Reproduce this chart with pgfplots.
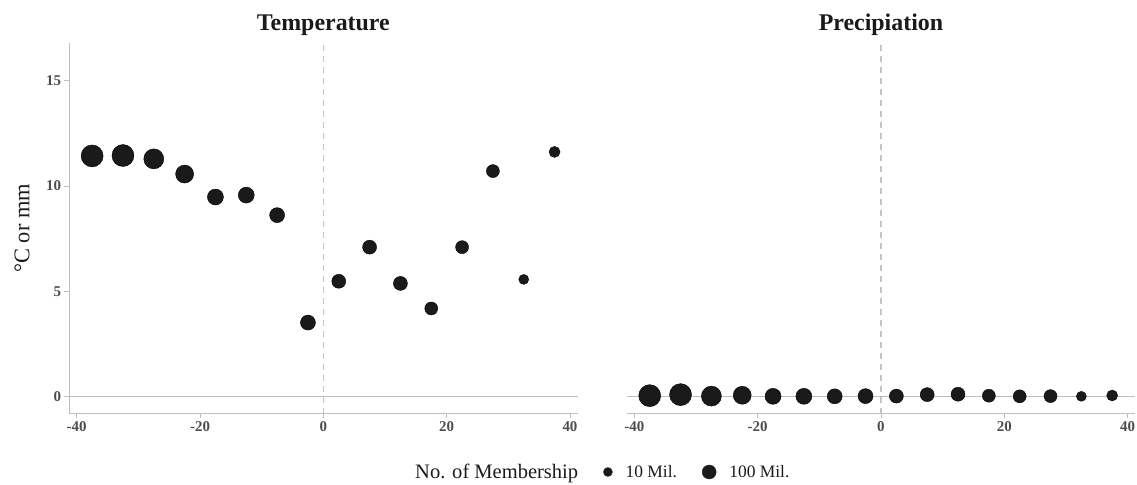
\documentclass[border=0pt]{standalone}
\usepackage{fontspec}
\setmainfont{Liberation Serif}
\usepackage{pgfplots}
\pgfplotsset{compat=1.18}
\usepackage{pgfplotstable}

\definecolor{dotc}{HTML}{1A1A1A}
\definecolor{tickc}{HTML}{4D4D4D}
\definecolor{axisc}{HTML}{BEBEBE}
\definecolor{refc}{HTML}{C4C4C4}

% x: latitude band centre, t: temperature, p: precipitation, d: dot diameter (membership)
\pgfplotstableread{
x      t      p     d
-37.5  11.43  0.05  22
-32.5  11.45  0.10  22
-27.5  11.29  0.03  20
-22.5  10.57  0.07  18
-17.5   9.48  0.02  16
-12.5   9.57  0.02  16
-7.5    8.62  0.02  15
-2.5    3.52  0.03  15
2.5     5.48  0.03  14
7.5     7.10  0.10  14
12.5    5.38  0.12  14
17.5    4.19  0.05  13
22.5    7.10  0.02  13
27.5   10.71  0.03  13
32.5    5.57  0.02  10
37.5   11.62  0.06  11
}\climate

\pgfplotsset{
  panel/.style={
    scale only axis, width=508.7bp, height=370.8bp,
    xmin=-41.25, xmax=41.25, ymin=-0.8, ymax=16.8,
    xtick={-40,-20,0,20,40}, ytick={0,5,10,15},
    tick align=outside, major tick length=4.5bp,
    every tick/.style={axisc, line width=0.8bp},
    axis line style={axisc, line width=1bp},
    /pgf/number format/assume math mode=true,
    ticklabel style={font=\fontsize{15}{15}\selectfont\bfseries, text=tickc},
    title style={font=\fontsize{24}{24}\selectfont\bfseries, text=dotc,
                 at={(0.5,1)}, anchor=base, yshift=6bp},
    clip=false,
  },
  dots/.style={only marks, mark=*, scatter, point meta=\thisrow{d},
    visualization depends on={\thisrow{d}/2 \as \rad},
    scatter/use mapped color={draw=none, fill=dotc},
    scatter/@pre marker code/.append style={/tikz/mark size=\rad bp},
    forget plot},
  zeroline/.style={axisc, line width=1.5bp, forget plot},
  refline/.style={refc, line width=1.3bp, dash pattern=on 6bp off 5bp, forget plot},
}

\begin{document}
\begin{tikzpicture}
\useasboundingbox (0,0) rectangle (1137bp,485bp);

\begin{axis}[panel,
  at={(69bp,71.4bp)}, anchor=south west,
  axis lines*=left,
  title={Temperature},
  ylabel={°C or mm},
  ylabel style={font=\fontsize{22.5}{22.5}\selectfont, text=dotc,
                at={(axis description cs:-0.0925,0.5)}, anchor=center},
  legend style={at={(0.6546,-0.1575)}, anchor=west, draw=none, fill=none,
                inner sep=0pt, legend columns=-1,
                font=\fontsize{17.5}{17.5}\selectfont, text=dotc,
                nodes={inner sep=1bp},
                /tikz/every odd column/.append style={column sep=12bp},
                /tikz/every even column/.append style={column sep=24bp}},
]
\addplot[zeroline] coordinates {(-41.25,0) (41.25,0)};
\addplot[refline] coordinates {(0,-0.8) (0,16.8)};
\addplot[dots] table[x=x, y=t] {\climate};
\addlegendimage{empty legend}
\addlegendentry{\fontsize{20.6}{20.6}\selectfont No. of Membership}
\addlegendimage{legend image code/.code={\fill[dotc] (0bp,0bp) circle[radius=4.5bp];}}
\addlegendentry{10 Mil.}
\addlegendimage{legend image code/.code={\fill[dotc] (0bp,0bp) circle[radius=7bp];}}
\addlegendentry{100 Mil.}
\end{axis}

\begin{axis}[panel,
  at={(626.6bp,71.4bp)}, anchor=south west,
  axis x line*=bottom, axis y line=none,
  ytick=\empty,
  title={Precipiation},
]
\addplot[zeroline] coordinates {(-41.25,0) (41.25,0)};
\addplot[refline] coordinates {(0,-0.8) (0,16.8)};
\addplot[dots] table[x=x, y=p] {\climate};
\end{axis}
\end{tikzpicture}
\end{document}
